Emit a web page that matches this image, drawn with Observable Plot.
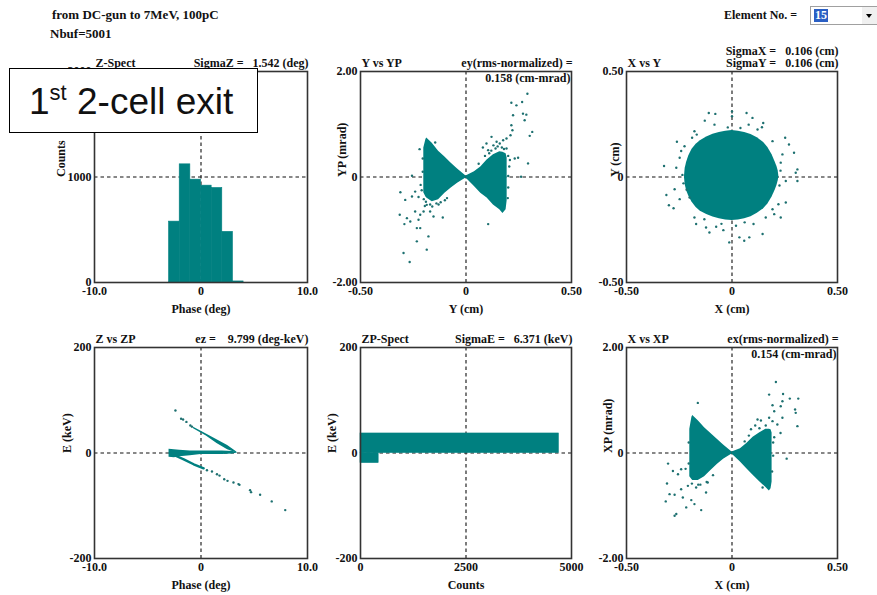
<!DOCTYPE html>
<html>
<head>
<meta charset="utf-8">
<script src="https://cdn.jsdelivr.net/npm/d3@7"></script>
<script src="https://cdn.jsdelivr.net/npm/@observablehq/plot@0.6"></script>
<style>
  body { margin: 0; background: #fff; }
  #page { position: relative; width: 877px; height: 595px; overflow: hidden; background: #fff;
          font-family: "Liberation Serif", "Times New Roman", serif; font-weight: bold; color: #111; }
  #page svg text { font-family: "Liberation Serif", "Times New Roman", serif; font-weight: bold; font-size: 12px; }
  .hdr { position: absolute; font-size: 13px; white-space: pre; line-height: 1; }
  #stage { position: absolute; left: 9px; top: 68px; width: 249px; height: 65px; border: 1.5px solid #000;
           background: #fff; z-index: 5; font-family: "Liberation Sans", Arial, sans-serif; font-weight: normal;
           font-size: 37px; line-height: 66px; padding-left: 19px; box-sizing: border-box; color: #111; }
  #stage sup { font-size: 22px; vertical-align: 14px; line-height: 0; }
  #combo { position: absolute; left: 810px; top: 6px; width: 67px; height: 19px; border: 1px solid #a0a0a0;
           border-right: none; background: #fff; box-sizing: border-box; }
  #combo .sel { position: absolute; left: 3px; top: 2px; height: 13px; width: 14px; background: #2a5fc4; color: #fff;
                font-size: 12px; line-height: 13px; text-align: center; }
  #combo .btn { position: absolute; right: 0; top: 0; width: 15px; height: 17px; background: #f0f0f0; }
  #combo .btn:after { content: ""; position: absolute; left: 4px; top: 7px; border-left: 3.5px solid transparent;
                      border-right: 3.5px solid transparent; border-top: 4px solid #000; }
</style>
</head>
<body>
<div id="page">
  <div class="hdr" style="left:52px;top:8px;">from DC-gun to 7MeV, 100pC</div>
  <div class="hdr" style="left:50px;top:27px;">Nbuf=5001</div>
  <div class="hdr" style="left:724px;top:9px;font-size:12px;">Element No. =</div>
  <div id="combo"><div class="sel">15</div><div class="btn"></div></div>
  <div id="stage">1<sup>st</sup> 2-cell exit</div>
</div>
<script>
// ---------- Z-Spect: phase histogram (deg, counts) ----------
const phaseBinLow = [-3, -2, -1, 0, 1, 2, 3];
const phaseBinHigh = [-2, -1, 0, 1, 2, 3, 4];
const phaseCounts = [577, 1120, 975, 918, 896, 480, 10];

// ---------- ZP-Spect: energy histogram (keV, counts) ----------
const energyBinLow = [-19, 0];
const energyBinHigh = [0, 37];
const energyCounts = [430, 4700];

// ---------- Y vs YP phase space (cm, mrad) ----------
// dense core, left and right lobes: x, lower edge, upper edge
const yypLeftX  = [-0.20, -0.19, -0.186, -0.16, -0.13, -0.10, -0.07, -0.04, 0];
const yypLeftLo = [-0.30, -0.38, -0.40, -0.47, -0.43, -0.31, -0.21, -0.12, -0.02];
const yypLeftHi = [0.55, 0.71, 0.74, 0.64, 0.49, 0.38, 0.26, 0.15, 0.02];
const yypRightX  = [0, 0.04, 0.07, 0.10, 0.13, 0.16, 0.175, 0.19, 0.195];
const yypRightLo = [-0.02, -0.18, -0.31, -0.40, -0.53, -0.62, -0.69, -0.62, -0.45];
const yypRightHi = [0.02, 0.10, 0.19, 0.32, 0.42, 0.48, 0.47, 0.44, 0.36];
// halo particles
const yypHalo = [
  [0.291, 1.579], [0.215, 1.409], [0.239, 1.358], [0.266, 1.421], [0.270, 1.201], [0.286, 1.182],
  [0.278, 1.075], [0.223, 1.170], [0.215, 0.981], [0.220, 0.887], [0.211, 0.792], [0.314, 0.855],
  [0.302, 0.780], [0.294, 0.258], [0.192, 0.730], [0.176, 0.698], [0.160, 0.635], [0.121, 0.761],
  [0.145, 0.667], [0.097, 0.635], [0.105, 0.509], [0.192, 0.541], [0.247, 0.365], [0.231, 0.352],
  [0.208, 0.321], [0.261, 0.006], [0.105, -0.893], [0.080, 0.560], [0.130, 0.600], [0.170, 0.560],
  [0.09, 0.40], [0.12, 0.50], [0.14, 0.54], [0.18, 0.53], [0.20, 0.40], [0.205, 0.20], [0.20, 0.02],
  [0.20, -0.20], [0.198, -0.40], [0.06, 0.25], [0.15, 0.58], [0.11, 0.45],
  [-0.311, -0.289], [-0.256, -0.371], [-0.241, -0.277], [-0.288, -0.434], [-0.314, -0.717],
  [-0.292, -0.893], [-0.280, -0.780], [-0.241, -0.654], [-0.217, -0.717], [-0.201, -0.654],
  [-0.264, -0.843], [-0.225, -0.811], [-0.170, -0.654], [-0.154, -0.748], [-0.110, -0.767],
  [-0.186, -0.528], [-0.233, -0.969], [-0.217, -0.969], [-0.178, -1.126], [-0.233, -1.220],
  [-0.186, -1.377], [-0.296, -1.440], [-0.267, -1.610], [-0.220, 0.528], [-0.146, 0.654],
  [-0.256, 0.025], [-0.215, -0.150], [-0.210, -0.250], [-0.200, -0.420], [-0.190, -0.470],
  [-0.170, -0.520], [-0.140, -0.500], [-0.120, -0.480], [-0.090, -0.400], [-0.225, -0.380],
  [-0.205, 0.10], [-0.205, 0.35], [-0.195, -0.55], [-0.16, -0.56], [-0.13, -0.52], [-0.10, -0.44]
];

// ---------- X vs Y beam cross-section (cm, cm) ----------
const xyCoreX  = [-0.225, -0.222, -0.215, -0.205, -0.19, -0.17, -0.15, -0.12, -0.09, -0.06, -0.03, 0,
                  0.03, 0.06, 0.09, 0.12, 0.15, 0.17, 0.19, 0.205, 0.213, 0.219, 0.222];
const xyCoreLo = [-0.005, -0.035, -0.065, -0.09, -0.118, -0.145, -0.162, -0.178, -0.19, -0.198, -0.204, -0.206,
                  -0.204, -0.198, -0.188, -0.172, -0.15, -0.128, -0.095, -0.062, -0.04, -0.018, 0.0];
const xyCoreHi = [0.005, 0.04, 0.07, 0.10, 0.13, 0.155, 0.172, 0.19, 0.203, 0.211, 0.217, 0.22,
                  0.217, 0.211, 0.202, 0.186, 0.163, 0.14, 0.105, 0.07, 0.05, 0.028, 0.005];
const xyHalo = [
  [-0.110, 0.303], [-0.079, 0.299], [0, 0.311], [0, 0.288], [0.069, 0.303], [0.097, 0.280],
  [-0.129, 0.267], [-0.083, 0.248], [0.079, 0.248], [0.148, 0.256], [0.142, 0.236], [0.121, 0.225],
  [-0.178, 0.217], [-0.167, 0.201], [-0.189, 0.186], [-0.261, 0.167], [-0.225, 0.146], [-0.241, 0.123],
  [-0.248, 0.091], [0.192, 0.170], [0.252, 0.186], [0.270, 0.154], [0.239, 0.107], [0.294, 0.115],
  [-0.322, 0.052], [-0.264, 0.044], [0.231, 0.068], [0.310, 0.036], [0.302, 0.020], [0.255, -0.019],
  [0.310, -0.019], [-0.272, -0.058], [-0.311, -0.085], [-0.201, -0.097], [-0.299, -0.134],
  [-0.277, -0.148], [-0.248, -0.105], [0.220, -0.129], [0.255, -0.121], [0.200, -0.176],
  [0.231, -0.192], [-0.178, -0.192], [-0.170, -0.223], [-0.123, -0.239], [-0.075, -0.236],
  [-0.107, -0.263], [-0.041, -0.252], [0.019, -0.231], [0.102, -0.223], [-0.013, -0.310],
  [0.035, -0.286], [0.058, -0.302], [0.082, -0.286], [0.145, -0.270], [0.160, -0.192],
  [0.192, -0.153], [-0.131, -0.200], [-0.235, 0.010], [0.230, 0.030], [-0.215, -0.060],
  [-0.02, 0.235], [0.04, 0.232], [-0.23, -0.03], [0.225, -0.04], [-0.05, -0.222], [0.06, -0.215]
];

// ---------- Z vs ZP longitudinal phase space (deg, keV) ----------
const zzpBandX  = [-3.0, -2.5, -2.0, -1.0, 0, 1.0, 2.0, 3.0, 3.4];
const zzpBandLo = [-8, -9, -7, -5, -3, -3, -3, -2, 0];
const zzpBandHi = [7, 6, 5, 4, 4, 4, 4, 3, 1];
const zzpUpperX  = [-0.7, 0.5, 1.5, 2.5, 3.36];
const zzpUpperLo = [46, 32, 18, 6, 0];
const zzpUpperHi = [49, 36, 25, 14, 2];
const zzpLowerTail = [[-2.55, -3.8], [-1.62, -12], [-0.69, -21.4], [0.25, -29]];
const zzpHalo = [
  [-2.40, 80.5], [-1.87, 64.8], [-1.68, 63.5], [-1.37, 59], [-1.0, 52], [-0.85, 50],
  [0.56, -32.7], [1.03, -35.2], [1.50, -40.3], [1.74, -42.8], [2.18, -49.7], [2.49, -52.8],
  [3.05, -56], [3.52, -59], [3.61, -60.4], [4.61, -70.4], [4.70, -74.2], [5.55, -79.2],
  [6.64, -91.8], [7.91, -108.2]
];

// ---------- X vs XP phase space (cm, mrad) ----------
const xxpLeftX  = [-0.20, -0.19, -0.186, -0.16, -0.13, -0.10, -0.07, -0.04, 0];
const xxpLeftLo = [-0.45, -0.50, -0.52, -0.52, -0.45, -0.33, -0.22, -0.12, -0.02];
const xxpLeftHi = [0.45, 0.68, 0.71, 0.61, 0.48, 0.37, 0.26, 0.15, 0.02];
const xxpRightX  = [0, 0.04, 0.07, 0.10, 0.13, 0.16, 0.177, 0.185, 0.19];
const xxpRightLo = [-0.02, -0.17, -0.30, -0.42, -0.54, -0.65, -0.72, -0.68, -0.55];
const xxpRightHi = [0.02, 0.08, 0.18, 0.30, 0.38, 0.45, 0.45, 0.44, 0.38];
const xxpHalo = [
  [0.208, 1.346], [0.176, 1.107], [0.242, 1.119], [0.274, 1.031], [0.314, 1.031], [0.299, 0.824],
  [0.302, 0.761], [0.239, 0.981], [0.231, 0.887], [0.192, 0.906], [0.200, 0.792], [0.239, 0.667],
  [0.310, 0.509], [0.121, 0.635], [0.137, 0.616], [0.176, 0.667], [0.192, 0.604], [0.215, 0.541],
  [0.259, -0.107], [0.145, -0.654], [-0.162, 0.950], [-0.303, -0.201], [-0.280, -0.340],
  [-0.241, -0.308], [-0.256, -0.403], [-0.308, -0.579], [-0.296, -0.780], [-0.272, -0.792],
  [-0.314, -0.918], [-0.241, -0.686], [-0.209, -0.623], [-0.233, -0.843], [-0.193, -0.893],
  [-0.146, -1.082], [-0.170, -0.654], [-0.123, -0.748], [-0.115, -0.560], [-0.264, -1.157],
  [-0.272, -1.189], [-0.217, -1.031], [-0.178, -0.969], [0.090, 0.450], [0.110, 0.520],
  [-0.220, -0.300], [-0.150, -0.600], [0.230, 0.380], [0.200, 0.300],
  [0.06, 0.22], [0.08, 0.33], [0.13, 0.47], [0.16, 0.52], [0.195, 0.20], [0.195, -0.05], [0.19, -0.35],
  [-0.205, 0.20], [-0.205, -0.20], [-0.19, -0.58], [-0.16, -0.60], [-0.12, -0.55], [-0.09, -0.42]
];

// ---------- tick values ----------
const phaseTicks = [-10, 0, 10];
const countTicks = [0, 1000, 2000];
const cmTicks = [-0.5, 0, 0.5];
const mradTicks = [-2, 0, 2];
const keVTicks = [-200, 0, 200];
const spectCountTicks = [0, 2500, 5000];

const TEAL = "#008080";
const DOT = "#1d7070";
const fmt = p => d => d === 0 ? "0" : d3.format(`.${p}f`)(d).replace("−", "-");

const zip = (xs, ...cols) => xs.map((x, i) => [x, ...cols.map(c => c[i])]);

const ML = 70, MR = 30, MT = 40, MB = 40;
const page = document.getElementById("page");

function panel({frame, x, y, marks, title, note, note2, noteInside, xlabel, ylabel, ylabelDx}) {
  const [fl, ft, fw, fh] = frame;
  const text = (s, o) => Plot.text([s], {text: d => d, fill: "#111", ...o});
  const all = [
    // dashed centre cross sits behind the data
    Plot.ruleX([x.center ?? 0], {stroke: "#111", strokeWidth: 1.1, strokeDasharray: "3.5,3"}),
    Plot.ruleY([y.center ?? 0], {stroke: "#111", strokeWidth: 1.1, strokeDasharray: "3.5,3"}),
    ...marks,
    Plot.frame({stroke: "#333", strokeWidth: 1.6}),
    text(title, {frameAnchor: "top-left", textAnchor: "start", lineAnchor: "bottom", dy: -5, dx: 1}),
    text(xlabel, {frameAnchor: "bottom", lineAnchor: "middle", dy: 27}),
    text(ylabel, {frameAnchor: "left", rotate: -90, dx: ylabelDx})
  ];
  if (note) all.push(text(note, {frameAnchor: "top-right", textAnchor: "end", lineAnchor: "bottom", dy: -5, dx: 1}));
  if (note2) all.push(text(note2, {frameAnchor: "top-right", textAnchor: "end", lineAnchor: "bottom", dy: -17, dx: 1}));
  if (noteInside) all.push(text(noteInside, {frameAnchor: "top-right", textAnchor: "end", lineAnchor: "top", dy: 2, dx: -1}));
  const svg = Plot.plot({
    width: ML + fw + MR, height: MT + fh + MB,
    marginLeft: ML, marginRight: MR, marginTop: MT, marginBottom: MB,
    style: {background: "transparent", overflow: "visible", color: "#111"},
    x: {domain: x.domain, ticks: x.ticks, tickFormat: x.format, tickSize: 0, tickPadding: 4, label: null},
    y: {domain: y.domain, ticks: y.ticks, tickFormat: y.format, tickSize: 0, tickPadding: 3, label: null},
    marks: all
  });
  svg.style.position = "absolute";
  svg.style.left = (fl - ML) + "px";
  svg.style.top = (ft - MT) + "px";
  page.insertBefore(svg, document.getElementById("stage"));
}

const nb = "\u00a0";

// Z-Spect
panel({
  frame: [94, 71, 213, 211],
  x: {domain: [-10, 10], ticks: phaseTicks, format: fmt(1)},
  y: {domain: [0, 2000], ticks: countTicks, format: d => String(d), center: 1000},
  marks: [
    Plot.rectY(zip(phaseBinLow, phaseBinHigh, phaseCounts),
      {x1: d => d[0], x2: d => d[1], y1: 0, y2: d => d[2], fill: TEAL, stroke: TEAL, strokeWidth: 0.6, inset: 0})
  ],
  title: "Z-Spect", note: `SigmaZ =${nb}${nb}${nb}1.542 (deg)`,
  xlabel: "Phase (deg)", ylabel: "Counts", ylabelDx: -33
});

// Y vs YP
panel({
  frame: [360, 71, 211, 211],
  x: {domain: [-0.5, 0.5], ticks: cmTicks, format: fmt(2)},
  y: {domain: [-2, 2], ticks: mradTicks, format: fmt(2)},
  marks: [
    Plot.areaY(zip(yypLeftX, yypLeftLo, yypLeftHi), {x: d => d[0], y1: d => d[1], y2: d => d[2], fill: TEAL}),
    Plot.areaY(zip(yypRightX, yypRightLo, yypRightHi), {x: d => d[0], y1: d => d[1], y2: d => d[2], fill: TEAL}),
    Plot.dot(yypHalo, {x: d => d[0], y: d => d[1], r: 1.2, fill: DOT})
  ],
  title: "Y vs YP", note: "ey(rms-normalized) =", noteInside: "0.158 (cm-mrad)",
  xlabel: "Y (cm)", ylabel: "YP (mrad)", ylabelDx: -18
});

// X vs Y
panel({
  frame: [626, 71, 211, 211],
  x: {domain: [-0.5, 0.5], ticks: cmTicks, format: fmt(2)},
  y: {domain: [-0.5, 0.5], ticks: cmTicks, format: fmt(2)},
  marks: [
    Plot.areaY(zip(xyCoreX, xyCoreLo, xyCoreHi), {x: d => d[0], y1: d => d[1], y2: d => d[2], fill: TEAL}),
    Plot.dot(xyHalo, {x: d => d[0], y: d => d[1], r: 1.2, fill: DOT})
  ],
  title: "X vs Y", note: `SigmaY =${nb}${nb}${nb}0.106 (cm)`, note2: `SigmaX =${nb}${nb}${nb}0.106 (cm)`,
  xlabel: "X (cm)", ylabel: "Y (cm)", ylabelDx: -11
});

// Z vs ZP
panel({
  frame: [94, 347, 213, 211],
  x: {domain: [-10, 10], ticks: phaseTicks, format: fmt(1)},
  y: {domain: [-200, 200], ticks: keVTicks, format: d => String(d)},
  marks: [
    Plot.areaY(zip(zzpBandX, zzpBandLo, zzpBandHi), {x: d => d[0], y1: d => d[1], y2: d => d[2], fill: TEAL}),
    Plot.areaY(zip(zzpUpperX, zzpUpperLo, zzpUpperHi), {x: d => d[0], y1: d => d[1], y2: d => d[2], fill: TEAL}),
    Plot.line(zzpLowerTail, {x: d => d[0], y: d => d[1], stroke: TEAL, strokeWidth: 2.4}),
    Plot.dot(zzpHalo, {x: d => d[0], y: d => d[1], r: 1.2, fill: DOT})
  ],
  title: "Z vs ZP", note: `ez =${nb}${nb}${nb}${nb}9.799 (deg-keV)`,
  xlabel: "Phase (deg)", ylabel: "E (keV)", ylabelDx: -27
});

// ZP-Spect
panel({
  frame: [360, 347, 211, 211],
  x: {domain: [0, 5000], ticks: spectCountTicks, format: d => String(d), center: 2500},
  y: {domain: [-200, 200], ticks: keVTicks, format: d => String(d)},
  marks: [
    Plot.rectX(zip(energyBinLow, energyBinHigh, energyCounts),
      {y1: d => d[0], y2: d => d[1], x1: 0, x2: d => d[2], fill: TEAL, stroke: TEAL, strokeWidth: 0.6, inset: 0})
  ],
  title: "ZP-Spect", note: `SigmaE =${nb}${nb}${nb}6.371 (keV)`,
  xlabel: "Counts", ylabel: "E (keV)", ylabelDx: -28
});

// X vs XP
panel({
  frame: [626, 347, 211, 211],
  x: {domain: [-0.5, 0.5], ticks: cmTicks, format: fmt(2)},
  y: {domain: [-2, 2], ticks: mradTicks, format: fmt(2)},
  marks: [
    Plot.areaY(zip(xxpLeftX, xxpLeftLo, xxpLeftHi), {x: d => d[0], y1: d => d[1], y2: d => d[2], fill: TEAL}),
    Plot.areaY(zip(xxpRightX, xxpRightLo, xxpRightHi), {x: d => d[0], y1: d => d[1], y2: d => d[2], fill: TEAL}),
    Plot.dot(xxpHalo, {x: d => d[0], y: d => d[1], r: 1.2, fill: DOT})
  ],
  title: "X vs XP", note: "ex(rms-normalized) =", noteInside: "0.154 (cm-mrad)",
  xlabel: "X (cm)", ylabel: "XP (mrad)", ylabelDx: -18
});
</script>
</body>
</html>
